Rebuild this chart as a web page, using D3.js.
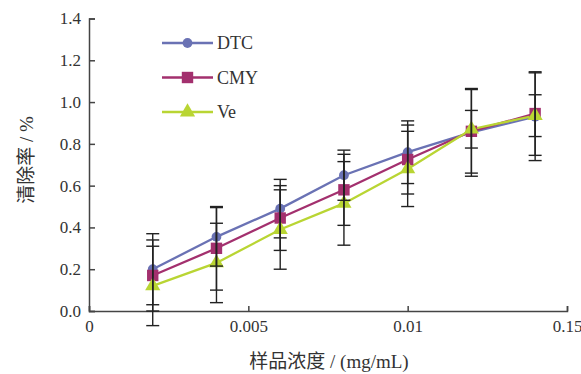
<!DOCTYPE html>
<html>
<head>
<meta charset="utf-8">
<script src="https://cdn.jsdelivr.net/npm/d3@7"></script>
<style>
  body { margin: 0; background: #fff; }
  text { font-family: "Liberation Serif", "Noto Sans CJK SC", serif; fill: #333; }
</style>
</head>
<body>
<div id="chart"></div>
<script>
// concentrations (mg/mL)
const conc = [0.002, 0.004, 0.006, 0.008, 0.010, 0.012, 0.014];

const dtc = [0.20, 0.355, 0.49, 0.65, 0.76, 0.855, 0.93];
const cmy = [0.17, 0.30, 0.445, 0.58, 0.725, 0.86, 0.945];
const ve  = [0.12, 0.23, 0.39, 0.515, 0.68, 0.87, 0.935];

// error bar half-widths
const dtcErr = [0.17, 0.14, 0.14, 0.12, 0.15, 0.21, 0.21];
const cmyErr = [0.17, 0.20, 0.155, 0.17, 0.165, 0.20, 0.20];
const veErr  = [0.19, 0.19, 0.19, 0.20, 0.18, 0.09, 0.10];

const xTickVals = [0, 0.005, 0.01, 0.015];
const xTickLabels = ["0", "0.005", "0.01", "0.15"];
const yTickVals = [0, 0.2, 0.4, 0.6, 0.8, 1.0, 1.2, 1.4];

const series = [
  { name: "DTC", values: dtc, err: dtcErr, color: "#6a72b4", shape: d3.symbolCircle, size: 75 },
  { name: "CMY", values: cmy, err: cmyErr, color: "#a3306e", shape: d3.symbolSquare, size: 130 },
  { name: "Ve",  values: ve,  err: veErr,  color: "#b9d533", shape: d3.symbolTriangle, size: 100 }
];

const width = 581, height = 374;
const svg = d3.select("#chart").append("svg")
  .attr("width", width)
  .attr("height", height);

const x = d3.scaleLinear().domain([0, 0.015]).range([89, 567]);
const y = d3.scaleLinear().domain([0, 1.4]).range([311, 18.5]);

// axes
svg.append("g")
  .attr("transform", "translate(0,311)")
  .call(d3.axisBottom(x).tickValues(xTickVals).tickSize(-5).tickPadding(7)
    .tickFormat((d, i) => xTickLabels[i]))
  .call(g => g.selectAll("text").style("font-size", "17px").attr("dy", "0.85em"));

svg.append("g")
  .attr("transform", "translate(89,0)")
  .call(d3.axisLeft(y).tickValues(yTickVals).tickSize(-6).tickPadding(8)
    .tickFormat(d3.format(".1f")))
  .call(g => g.selectAll("text").style("font-size", "17px"));

svg.selectAll(".domain, .tick line").attr("stroke", "#444").attr("stroke-width", 1.5);

// lines
const line = d3.line().x((d, i) => x(conc[i])).y(d => y(d));
series.forEach(s => {
  svg.append("path")
    .datum(s.values)
    .attr("fill", "none")
    .attr("stroke", s.color)
    .attr("stroke-width", 2.3)
    .attr("d", line);
});

// markers
series.forEach(s => {
  svg.selectAll(null)
    .data(s.values)
    .join("path")
    .attr("transform", (d, i) => `translate(${x(conc[i])},${y(d)})`)
    .attr("d", d3.symbol().type(s.shape).size(s.size))
    .attr("fill", s.color);
});

// error bars
series.forEach(s => {
  const g = svg.append("g").attr("stroke", "#222").attr("stroke-width", 1.4);
  s.values.forEach((v, i) => {
    const cx = x(conc[i]);
    const top = y(v + s.err[i]), bot = y(v - s.err[i]);
    g.append("line").attr("x1", cx).attr("x2", cx).attr("y1", top).attr("y2", bot);
    g.append("line").attr("x1", cx - 6.5).attr("x2", cx + 6.5).attr("y1", top).attr("y2", top);
    g.append("line").attr("x1", cx - 6.5).attr("x2", cx + 6.5).attr("y1", bot).attr("y2", bot);
  });
});

// legend
const legend = svg.append("g").attr("transform", "translate(162,43)");
series.forEach((s, i) => {
  const row = legend.append("g").attr("transform", `translate(0,${i * 34.5})`);
  row.append("line").attr("x1", 0).attr("x2", 51).attr("stroke", s.color).attr("stroke-width", 2.3);
  row.append("path").attr("transform", "translate(25.5,0)")
    .attr("d", d3.symbol().type(s.shape).size(s.size)).attr("fill", s.color);
  row.append("text").attr("x", 55).attr("dy", "0.35em")
    .style("font-size", "18px").text(s.name);
});

// axis titles
svg.append("text")
  .attr("transform", "translate(33,160) rotate(-90)")
  .attr("text-anchor", "middle")
  .style("font-size", "19px")
  .text("清除率 / %");

svg.append("text")
  .attr("x", 329).attr("y", 368)
  .attr("text-anchor", "middle")
  .style("font-size", "19px")
  .text("样品浓度 / (mg/mL)");
</script>
</body>
</html>
